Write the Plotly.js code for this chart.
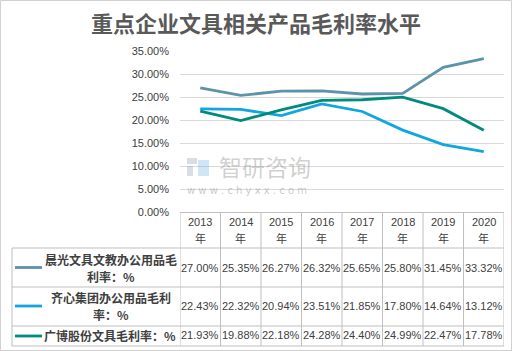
<!DOCTYPE html>
<html><head><meta charset="utf-8">
<script src="https://cdn.plot.ly/plotly-3.0.1.min.js"></script>
<style>html,body{margin:0;padding:0;background:#fff}#chart{width:512px;height:351px}</style>
</head><body><div id="chart"></div>
<script>
const years = ["2013","2014","2015","2016","2017","2018","2019","2020"];
const yearSuffix = "年";
const seriesNames = [["晨光文具文教办公用品毛","利率：%"],["齐心集团办公用品毛利","率：%"],["广博股份文具毛利率：%"]];
const chenguang = [27.00,25.35,26.27,26.32,25.65,25.80,31.45,33.32];
const qixin = [22.43,22.32,20.94,23.51,21.85,17.80,14.64,13.12];
const guangbo = [21.93,19.88,22.18,24.28,24.40,24.99,22.47,17.78];
const colors = ["#5B93AC","#12A6E0","#008B7B"];

const W=512,H=351,L=180,R=8,T=51,B=139;
const pw=W-L-R, ph=H-T-B;
const px=x=>(x-L)/pw, py=y=>(H-B-y)/ph;

const all=[chenguang,qixin,guangbo];
const xi=years.map((_,i)=>i);
const traces=all.map((s,k)=>({x:xi,y:s.map(v=>v/100),type:'scatter',mode:'lines',
  line:{color:colors[k],width:2.8},hoverinfo:'skip',showlegend:false}));

const shapes=[], ann=[];
const grid='#BFBFBF';
shapes.push({type:'rect',xref:'paper',yref:'paper',x0:px(0.5),x1:px(511.5),y0:py(350.5),y1:py(0.5),line:{color:'#D0D0D0',width:1}});
const rowY=[248,287,326,346];
rowY.forEach(y=>shapes.push({type:'line',xref:'paper',yref:'paper',x0:px(12),x1:px(504),y0:py(y),y1:py(y),line:{color:grid,width:1}}));
for(let i=0;i<=years.length;i++){
  shapes.push({type:'line',xref:'x',yref:'paper',x0:i-0.5,x1:i-0.5,y0:py(212),y1:py(346),line:{color:grid,width:1}});
}
shapes.push({type:'line',xref:'paper',yref:'paper',x0:px(12),x1:px(12),y0:py(248),y1:py(346),line:{color:grid,width:1}});
const keyY=[267.5,306,336];
keyY.forEach((y,k)=>shapes.push({type:'line',xref:'paper',yref:'paper',x0:px(15),x1:px(42),y0:py(y),y1:py(y),line:{color:colors[k],width:2.8}}));

const tf={family:'"Noto Sans CJK SC", "Liberation Sans", sans-serif',size:11,color:'#404040'};
const nf={family:'"Noto Sans CJK SC", "Liberation Sans", sans-serif',size:12,color:'#404040'};
const vf={family:'"Liberation Sans", sans-serif',size:11,color:'#404040'};
years.forEach((yr,i)=>{
  ann.push({xref:'x',yref:'paper',x:i,y:py(222),text:yr,showarrow:false,font:vf,xanchor:'center',yanchor:'middle',borderpad:0});
  ann.push({xref:'x',yref:'paper',x:i,y:py(238),text:yearSuffix,showarrow:false,font:tf,xanchor:'center',yanchor:'middle',borderpad:0});
});
const nameLines=[[259,276],[297,314],[335]];
seriesNames.forEach((n,k)=>{
  n.forEach((line,j)=>{
    ann.push({xref:'paper',yref:'paper',x:px(n.length>1?111:110),y:py(nameLines[k][j]),text:'<b>'+line+'</b>',showarrow:false,font:nf,xanchor:'center',yanchor:'middle',borderpad:0});
  });
});
const valY=[267.5,305.5,335];
all.forEach((s,k)=>{
  s.forEach((v,i)=>{
    ann.push({xref:'x',yref:'paper',x:i,y:py(valY[k]),text:v.toFixed(2)+'%',showarrow:false,font:vf,xanchor:'center',yanchor:'middle',borderpad:0});
  });
});
// watermark
shapes.push({type:'rect',xref:'paper',yref:'paper',x0:px(187),x1:px(197),y0:py(164),y1:py(158),fillcolor:'rgba(140,160,190,0.35)',line:{width:0}});
shapes.push({type:'rect',xref:'paper',yref:'paper',x0:px(187),x1:px(193),y0:py(176),y1:py(166),fillcolor:'rgba(140,160,190,0.35)',line:{width:0}});
shapes.push({type:'rect',xref:'paper',yref:'paper',x0:px(198),x1:px(209),y0:py(176),y1:py(160),fillcolor:'rgba(120,180,225,0.35)',line:{width:0}});
ann.push({xref:'paper',yref:'paper',x:px(217),y:py(166),text:'智研咨询',showarrow:false,xanchor:'left',yanchor:'middle',font:{family:'"Noto Sans CJK SC", sans-serif',size:23,color:'rgba(150,150,150,0.45)'}});
ann.push({xref:'paper',yref:'paper',x:px(185),y:py(190),text:'w w w . c h y x x . c o m',showarrow:false,xanchor:'left',yanchor:'middle',font:{family:'"DejaVu Sans", sans-serif',size:10,color:'rgba(150,150,150,0.5)'}});
// title
ann.push({xref:'paper',yref:'paper',x:px(256),y:py(22),text:'<b>重点企业文具相关产品毛利率水平</b>',showarrow:false,xanchor:'center',yanchor:'middle',
  font:{family:'"Noto Sans CJK SC", sans-serif',size:22,color:'#595959'}});

const layout={
  width:W,height:H,margin:{l:L,r:R,t:T,b:B,pad:0},
  paper_bgcolor:'#fff',plot_bgcolor:'#fff',
  xaxis:{range:[-0.5,7.5],showticklabels:false,showgrid:false,zeroline:false,showline:true,linecolor:'#BFBFBF',linewidth:1,ticks:'',fixedrange:true},
  yaxis:{range:[0,0.35],dtick:0.05,tickformat:'.2%',showgrid:true,gridcolor:'#D9D9D9',gridwidth:1,zeroline:false,showline:false,
    tickfont:{family:'"Liberation Sans", sans-serif',size:11,color:'#404040'},ticklabelstandoff:10,fixedrange:true},
  shapes:shapes,annotations:ann,showlegend:false
};
Plotly.newPlot('chart',traces,layout,{staticPlot:true,displayModeBar:false});
</script></body></html>
